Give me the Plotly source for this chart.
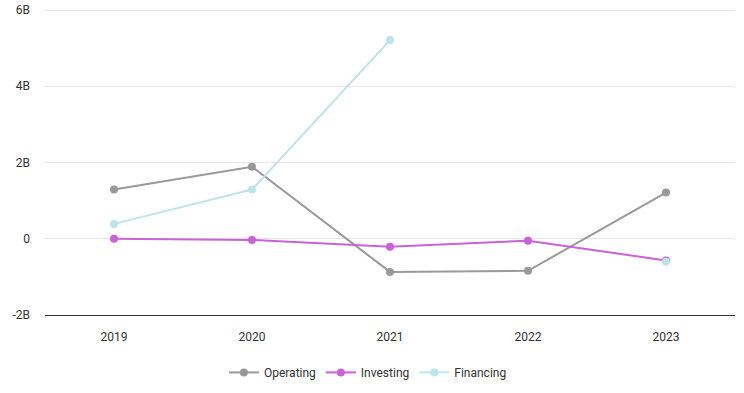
import plotly.graph_objects as go

years = ["2019", "2020", "2021", "2022", "2023"]
operating = [1.29e9, 1.89e9, -0.87e9, -0.84e9, 1.21e9]
investing = [0.0, -0.03e9, -0.21e9, -0.05e9, -0.57e9]
financing = [0.39e9, 1.29e9, 5.21e9, None, -0.60e9]

y_tickvals = [-2e9, 0, 2e9, 4e9, 6e9]
y_ticktext = ["-2B", "0", "2B", "4B", "6B"]

series = [
    ("Operating", operating, "#999999"),
    ("Investing", investing, "#c962d4"),
    ("Financing", financing, "#bfe3ea"),
]

fig = go.Figure()
for name, vals, color in series:
    fig.add_trace(go.Scatter(
        x=years, y=vals, name=name, mode="lines+markers",
        line=dict(color=color, width=2),
        marker=dict(color=color, size=8),
        connectgaps=False,
    ))

fig.update_layout(
    width=744, height=393,
    margin=dict(l=45, r=9, t=8, b=78, autoexpand=False),
    paper_bgcolor="white", plot_bgcolor="white",
    font=dict(family="Roboto, Arial, sans-serif", size=12, color="#333333"),
    showlegend=True,
    legend=dict(orientation="h", x=0.468, xanchor="center", y=-0.187, yanchor="middle",
                font=dict(size=12, color="#333333"), itemwidth=30),
    xaxis=dict(type="category", range=[-0.5, 4.5], showgrid=False, showline=True,
               linecolor="#333333", linewidth=1, ticks="outside", ticklen=11,
               tickcolor="rgba(0,0,0,0)", zeroline=False, automargin=False),
    yaxis=dict(range=[-2e9, 6.0525e9], tickvals=y_tickvals, ticktext=y_ticktext,
               showgrid=True, gridcolor="#e6e6e6", gridwidth=1, zeroline=False,
               showline=False, ticks="", ticklabelstandoff=14, automargin=False,
               ticklabeloverflow="allow"),
)

fig.write_html("out.html", config={"displayModeBar": False},
               post_script="document.body.style.margin='0';")
